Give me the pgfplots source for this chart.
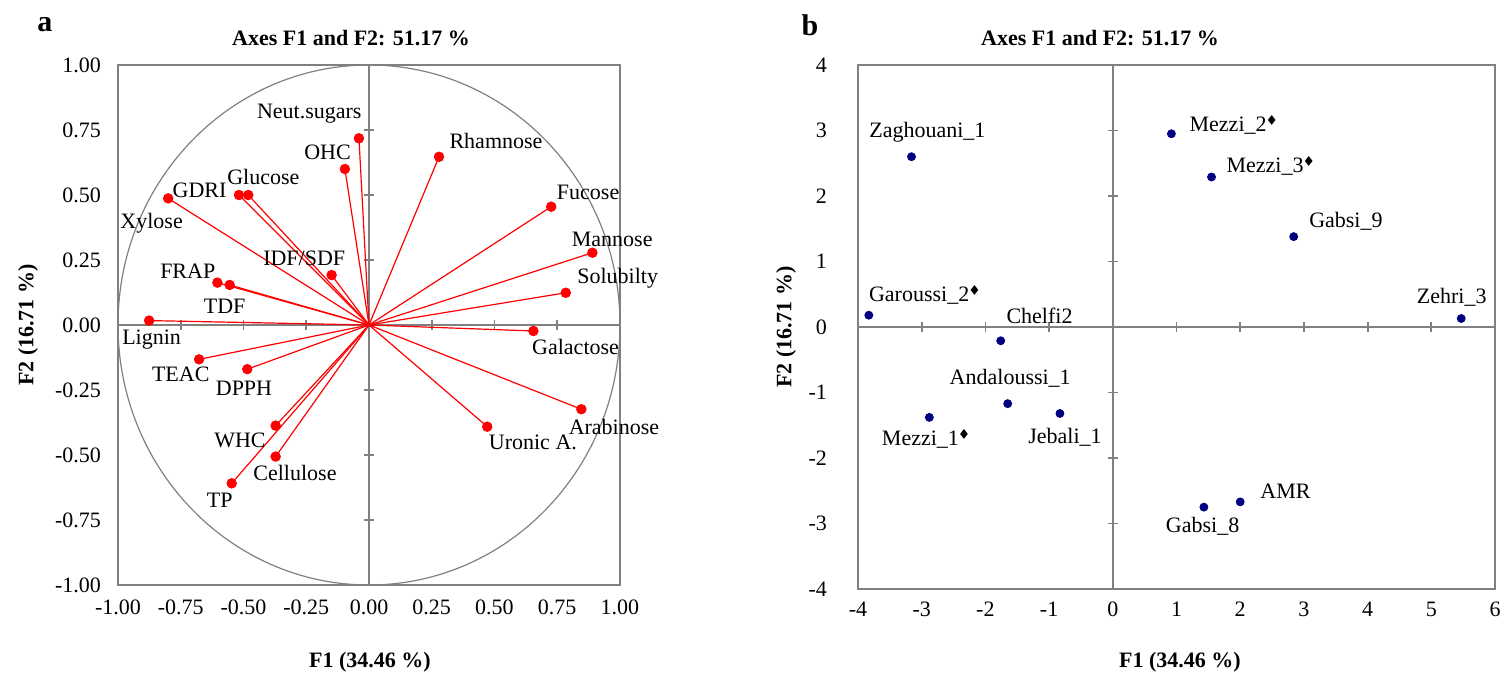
\documentclass[border=0pt]{standalone}
\usepackage{fontspec}
\setmainfont{Liberation Serif}
\usepackage{amssymb}
\usepackage{pgfplots}
\usepackage{pgfplotstable}
\pgfplotsset{compat=1.18}
\definecolor{axgray}{RGB}{128,128,128}
\definecolor{ptnavy}{RGB}{0,0,128}
\newcommand{\lab}{\fontsize{11}{13}\selectfont}
\newcommand{\dia}{$^{\scriptscriptstyle\blacklozenge}$}

% variables: loadings on F1, F2
\pgfplotstableread{
x y
-0.040 0.718
-0.096 0.600
-0.518 0.500
-0.481 0.500
-0.800 0.487
-0.149 0.192
-0.604 0.163
-0.555 0.154
-0.876 0.017
0.279 0.647
0.726 0.455
0.890 0.278
0.784 0.124
-0.677 -0.132
-0.485 -0.170
-0.372 -0.387
-0.372 -0.506
-0.547 -0.609
0.655 -0.023
0.846 -0.324
0.471 -0.391
}\vecs

% observations: scores on F1, F2
\pgfplotstableread{
x y
-3.16 2.60
-3.83 0.18
-1.76 -0.21
0.92 2.95
1.55 2.29
2.84 1.38
5.47 0.13
-1.65 -1.17
-2.88 -1.38
-0.83 -1.32
2.00 -2.67
1.43 -2.75
}\obs

\pgfplotsset{
  pcabase/.style={scale only axis, anchor=south west,
    /pgf/number format/assume math mode=true,
    tick label style={font=\fontsize{11}{13}\selectfont, black}},
  zeroaxes/.style={scale only axis, anchor=south west,
    axis lines*=center, xticklabels={}, yticklabels={},
    tick align=center, major tick length=5pt,
    tick style={axgray, line width=0.9pt},
    axis line style={axgray, line width=0.8pt}},
}

\begin{document}
\begin{tikzpicture}
\useasboundingbox (0,0) rectangle (753pt,340.5pt);

% ---------- panel a ----------
\begin{axis}[zeroaxes, at={(59pt,48pt)}, width=251pt, height=260pt,
  xmin=-1, xmax=1, ymin=-1, ymax=1,
  xtick={-0.75,-0.5,-0.25,0.25,0.5,0.75},
  ytick={-0.75,-0.5,-0.25,0.25,0.5,0.75}]
\end{axis}

\begin{axis}[pcabase, at={(59pt,48pt)}, width=251pt, height=260pt,
  xmin=-1, xmax=1, ymin=-1, ymax=1,
  xtick={-1,-0.75,-0.5,-0.25,0,0.25,0.5,0.75,1},
  ytick={-1,-0.75,-0.5,-0.25,0,0.25,0.5,0.75,1},
  major tick length=0pt,
  xticklabel style={yshift=-4pt, /pgf/number format/.cd, fixed, fixed zerofill, precision=2},
  yticklabel style={xshift=-5pt, /pgf/number format/.cd, fixed, fixed zerofill, precision=2},
  axis line style={axgray, line width=0.8pt},
  clip=false]
  \draw[axgray, line width=0.6pt] (axis cs:0,0) ellipse [x radius=1, y radius=1];
  \addplot[red, line width=0.6pt, quiver={u=\thisrow{x}, v=\thisrow{y}}]
    table[x expr=0, y expr=0] {\vecs};
  \addplot[only marks, mark=*, mark size=2.4pt, red] table {\vecs};
  \node[font=\lab] at (axis cs:-0.238,0.812) {Neut.sugars};
  \node[font=\lab] at (axis cs:-0.165,0.663) {OHC};
  \node[font=\lab] at (axis cs:-0.421,0.570) {Glucose};
  \node[font=\lab] at (axis cs:-0.675,0.519) {GDRI};
  \node[font=\lab] at (axis cs:-0.866,0.391) {Xylose};
  \node[font=\lab] at (axis cs:-0.258,0.256) {IDF/SDF};
  \node[font=\lab] at (axis cs:-0.722,0.205) {FRAP};
  \node[font=\lab] at (axis cs:-0.575,0.070) {TDF};
  \node[font=\lab] at (axis cs:-0.866,-0.055) {Lignin};
  \node[font=\lab] at (axis cs:-0.750,-0.188) {TEAC};
  \node[font=\lab] at (axis cs:-0.498,-0.244) {DPPH};
  \node[font=\lab] at (axis cs:-0.514,-0.442) {WHC};
  \node[font=\lab] at (axis cs:-0.295,-0.570) {Cellulose};
  \node[font=\lab] at (axis cs:-0.595,-0.676) {TP};
  \node[font=\lab] at (axis cs:0.506,0.708) {Rhamnose};
  \node[font=\lab] at (axis cs:0.873,0.509) {Fucose};
  \node[font=\lab] at (axis cs:0.969,0.330) {Mannose};
  \node[font=\lab] at (axis cs:0.991,0.180) {Solubilty};
  \node[font=\lab] at (axis cs:0.823,-0.083) {Galactose};
  \node[font=\lab] at (axis cs:0.976,-0.391) {Arabinose};
  \node[font=\lab] at (axis cs:0.653,-0.453) {Uronic A.};
\end{axis}

% ---------- panel b ----------
\begin{axis}[zeroaxes, at={(429pt,46pt)}, width=318.5pt, height=262pt,
  xmin=-4, xmax=6, ymin=-4, ymax=4,
  xtick={-3,-2,-1,1,2,3,4,5}, ytick={-3,-2,-1,1,2,3}]
\end{axis}

\begin{axis}[pcabase, at={(429pt,46pt)}, width=318.5pt, height=262pt,
  xmin=-4, xmax=6, ymin=-4, ymax=4,
  xtick={-4,-3,...,6}, ytick={-4,-3,...,4},
  major tick length=0pt,
  xticklabel style={yshift=-3pt},
  yticklabel style={xshift=-12pt},
  axis line style={axgray, line width=0.8pt},
  clip=false]
  \addplot[only marks, mark=*, mark size=2pt, ptnavy] table {\obs};
  \node[font=\lab] at (axis cs:-2.91,2.98) {Zaghouani\_1};
  \node[font=\lab] at (axis cs:-2.95,0.49) {Garoussi\_2\dia};
  \node[font=\lab] at (axis cs:-1.15,0.17) {Chelfi2};
  \node[font=\lab] at (axis cs:1.90,3.08) {Mezzi\_2\dia};
  \node[font=\lab] at (axis cs:2.48,2.46) {Mezzi\_3\dia};
  \node[font=\lab] at (axis cs:3.66,1.61) {Gabsi\_9};
  \node[font=\lab] at (axis cs:5.32,0.45) {Zehri\_3};
  \node[font=\lab] at (axis cs:-1.61,-0.78) {Andaloussi\_1};
  \node[font=\lab] at (axis cs:-2.93,-1.71) {Mezzi\_1\dia};
  \node[font=\lab] at (axis cs:-0.75,-1.69) {Jebali\_1};
  \node[font=\lab] at (axis cs:2.71,-2.51) {AMR};
  \node[font=\lab] at (axis cs:1.41,-3.04) {Gabsi\_8};
\end{axis}

% titles, axis labels, panel letters
\node[font=\fontsize{11}{13}\selectfont\bfseries] at (175.5pt,321.5pt) {Axes F1 and F2: 51.17 \%};
\node[font=\fontsize{11}{13}\selectfont\bfseries] at (550pt,321.5pt) {Axes F1 and F2: 51.17 \%};
\node[font=\fontsize{11}{13}\selectfont\bfseries] at (185pt,9.5pt) {F1 (34.46 \%)};
\node[font=\fontsize{11}{13}\selectfont\bfseries] at (590pt,9.5pt) {F1 (34.46 \%)};
\node[font=\fontsize{11}{13}\selectfont\bfseries, rotate=90] at (14pt,178pt) {F2 (16.71 \%)};
\node[font=\fontsize{11}{13}\selectfont\bfseries, rotate=90] at (393pt,177pt) {F2 (16.71 \%)};
\node[font=\fontsize{15}{17}\selectfont\bfseries] at (22.5pt,328pt) {a};
\node[font=\fontsize{15}{17}\selectfont\bfseries] at (405pt,328pt) {b};
\end{tikzpicture}
\end{document}
